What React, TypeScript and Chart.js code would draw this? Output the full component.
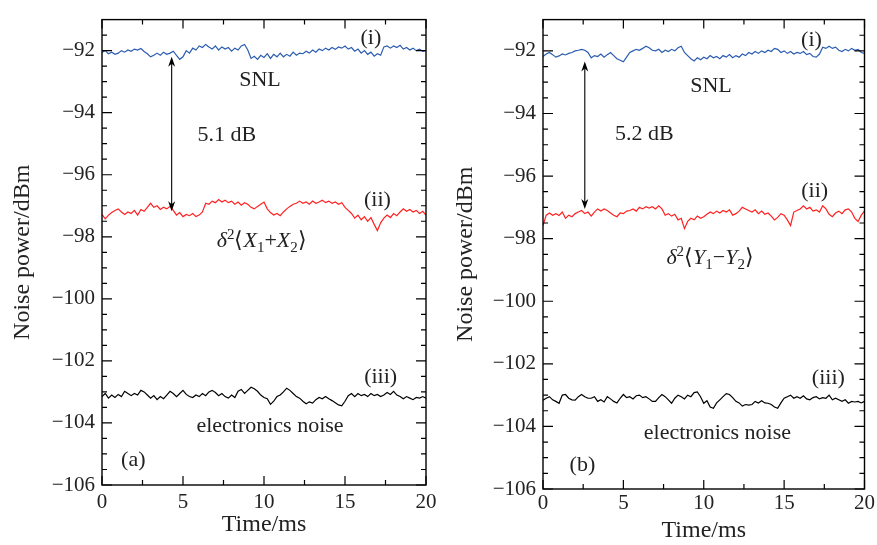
import React, { useEffect, useRef } from "react";
import { Chart, registerables } from "chart.js";
Chart.register(...registerables);

// ---------- data ----------
const TIME = [
  0, 0.2, 0.4, 0.6, 0.8, 1, 1.2, 1.4, 1.6, 1.8,
  2, 2.2, 2.4, 2.6, 2.8, 3, 3.2, 3.4, 3.6, 3.8,
  4, 4.2, 4.4, 4.6, 4.8, 5, 5.2, 5.4, 5.6, 5.8,
  6, 6.2, 6.4, 6.6, 6.8, 7, 7.2, 7.4, 7.6, 7.8,
  8, 8.2, 8.4, 8.6, 8.8, 9, 9.2, 9.4, 9.6, 9.8,
  10, 10.2, 10.4, 10.6, 10.8, 11, 11.2, 11.4, 11.6, 11.8,
  12, 12.2, 12.4, 12.6, 12.8, 13, 13.2, 13.4, 13.6, 13.8,
  14, 14.2, 14.4, 14.6, 14.8, 15, 15.2, 15.4, 15.6, 15.8,
  16, 16.2, 16.4, 16.6, 16.8, 17, 17.2, 17.4, 17.6, 17.8,
  18, 18.2, 18.4, 18.6, 18.8, 19, 19.2, 19.4, 19.6, 19.8,
  20,
];

// panel (a)
const A_SNL = [
  -92.05, -92.0, -92.1, -92.05, -92.12, -92.08, -92.0, -92.05, -91.98, -92.02,
  -91.95, -91.98, -91.93, -92.03, -92.1, -92.2, -92.15, -92.08, -92.15, -92.05,
  -92.12, -92.08, -92.02, -92.15, -92.28, -92.2, -92.0, -92.08, -91.92, -91.98,
  -91.85, -91.9, -91.8, -91.88, -91.95, -91.85, -91.98, -91.88, -91.95, -91.9,
  -92.02, -91.92, -91.98, -91.85, -91.8, -91.98, -92.25, -92.18, -92.28, -92.15,
  -92.22, -92.1, -92.25, -92.12, -92.2, -92.08, -92.2, -92.12, -92.18, -92.05,
  -92.15, -92.08, -92.1, -92.02, -92.08, -91.98, -92.05, -91.95, -92.0, -91.92,
  -91.98, -91.9, -91.96, -91.88, -91.92, -91.85, -91.95, -91.9, -92.02, -91.95,
  -92.08, -92.0, -92.12, -92.05, -92.18, -92.1, -92.15, -91.88, -91.85, -91.92,
  -91.85, -91.9, -91.83, -91.95, -91.9, -91.98, -91.92, -92.0, -91.95, -92.02,
  -92.0,
];
const A_SQ = [
  -97.28, -97.42, -97.3, -97.22, -97.15, -97.1, -97.2, -97.28, -97.2, -97.25,
  -97.15, -97.3, -97.12, -97.18, -97.05, -96.92, -97.05, -97.0, -97.12, -97.05,
  -97.1, -97.02, -97.15, -97.3, -97.22, -97.35, -97.28, -97.32, -97.25, -97.35,
  -97.3, -97.2, -96.92, -96.95, -96.85, -96.9, -96.8, -96.88, -96.82, -96.9,
  -96.85, -96.95, -96.88, -96.98, -96.9, -96.95, -97.05, -97.1, -97.02, -96.95,
  -96.88, -97.1, -97.22, -97.3, -97.25, -97.32, -97.2, -97.1, -97.02, -96.95,
  -96.92, -96.85, -96.92, -96.88, -96.95, -96.85, -96.92, -96.88, -96.82, -96.9,
  -96.85, -96.92, -96.88, -96.95, -96.9, -97.05, -97.15, -97.25, -97.4, -97.3,
  -97.45, -97.35, -97.5, -97.38, -97.6, -97.8, -97.55, -97.4, -97.3, -97.38,
  -97.25, -97.32, -97.2, -97.1, -97.18, -97.12, -97.2, -97.15, -97.25, -97.18,
  -97.3,
];
const A_EL = [
  -103.15, -103.05, -103.2, -103.1, -103.18, -103.08, -103.15, -102.98, -103.05, -103.12,
  -103.05, -103.1, -102.95, -103.0, -103.1, -103.2, -103.12, -103.25, -103.15, -103.22,
  -103.1, -102.98, -103.05, -103.15, -103.05, -102.95, -103.08, -103.15, -103.18, -103.1,
  -103.15, -103.05, -103.12, -103.0, -102.95, -103.02, -103.12, -103.05, -103.15, -103.2,
  -103.1, -103.18, -102.98, -102.92, -103.05, -102.95, -102.85, -102.9, -102.98, -103.1,
  -103.18, -103.22, -103.4, -103.3, -103.15, -103.1, -103.0, -102.88, -102.95, -103.05,
  -103.15, -103.2, -103.3, -103.38, -103.32, -103.36, -103.25, -103.18, -103.22, -103.15,
  -103.22, -103.28, -103.35, -103.42, -103.45, -103.3, -103.12, -103.05, -103.15, -103.05,
  -103.12, -103.08, -103.15, -103.05, -103.12, -103.08, -103.15, -103.1, -103.02, -103.08,
  -102.98, -103.1, -103.15, -103.22, -103.15, -103.2, -103.25, -103.18, -103.2, -103.15,
  -103.2,
];

// panel (b)
const B_SNL = [
  -92.18, -92.1, -92.05, -92.12, -92.2, -92.16, -92.1, -92.13, -92.08, -92.05,
  -92.0, -91.98, -91.95, -91.98, -92.05, -92.22, -92.15, -92.18, -92.1, -92.2,
  -92.12, -92.05, -92.15, -92.25, -92.3, -92.35, -92.2, -92.05, -92.0, -91.95,
  -91.98, -91.92, -91.85, -91.9, -91.98, -92.0, -91.95, -92.05, -91.98, -92.02,
  -91.95, -92.0, -91.9, -91.85, -92.05, -92.15, -92.25, -92.32, -92.22, -92.28,
  -92.2, -92.25, -92.15, -92.22, -92.18, -92.25, -92.15, -92.2, -92.12, -92.22,
  -92.15, -92.2, -92.1, -92.15, -92.05, -92.1, -92.02, -92.08, -92.0, -92.05,
  -91.98, -92.02, -91.92, -91.95, -92.05, -92.0, -92.08, -92.02, -92.1, -92.05,
  -92.08, -92.02, -92.12, -92.08, -92.18, -92.2, -92.1, -91.88, -91.92, -91.85,
  -91.92, -91.88, -91.98, -92.02, -91.95, -92.0, -91.92, -91.98, -91.95, -92.05,
  -92.08,
];
const B_SQ = [
  -97.58, -97.25, -97.18, -97.25, -97.2, -97.26, -97.15, -97.35, -97.25, -97.3,
  -97.2, -97.15, -97.1, -97.2, -97.15, -97.28, -97.15, -97.05, -97.12, -97.05,
  -97.1, -97.18, -97.25, -97.3, -97.18, -97.2, -97.12, -97.1, -97.05, -97.12,
  -97.0, -97.05, -96.98, -97.02, -96.98, -97.05, -96.95, -97.05, -97.25, -97.2,
  -97.28, -97.22, -97.4, -97.35, -97.68, -97.45, -97.35, -97.4, -97.28, -97.35,
  -97.3, -97.22, -97.15, -97.2, -97.12, -97.18, -97.1, -97.15, -97.08, -97.25,
  -97.2, -97.12, -97.0, -97.05, -97.1, -97.15, -97.08, -97.2, -97.12, -97.22,
  -97.18, -97.28, -97.4, -97.32, -97.2, -97.25, -97.4, -97.58, -97.15, -97.1,
  -97.05, -96.95, -97.05, -97.0, -97.12, -97.08, -97.15, -96.95, -97.05, -97.22,
  -97.3, -97.18, -97.12, -97.2, -97.08, -97.05, -97.15, -97.35, -97.45, -97.25,
  -97.12,
];
const B_EL = [
  -103.16, -103.1, -103.05, -103.15, -103.2, -103.26, -103.0, -102.98, -103.1, -103.15,
  -103.16, -103.05, -102.98, -103.05, -103.1, -103.1, -103.05, -103.2, -103.15, -103.22,
  -103.05, -103.12, -103.2, -103.25, -103.1, -102.98, -103.08, -103.05, -103.12, -103.02,
  -103.0, -103.08, -103.05, -103.12, -103.2, -103.2, -103.08, -102.98, -103.05, -103.15,
  -103.26, -103.1, -103.0, -103.05, -103.12, -103.0, -103.05, -102.92, -102.9, -103.05,
  -103.26, -103.18, -103.38, -103.42, -103.25, -103.15, -103.05, -102.95, -102.98, -103.08,
  -103.2, -103.25, -103.35, -103.3, -103.32, -103.3, -103.2, -103.25, -103.18, -103.25,
  -103.26, -103.3, -103.38, -103.42, -103.25, -103.1, -103.05, -103.0, -103.1, -103.05,
  -103.1, -103.02, -103.12, -103.15, -103.08, -103.05, -103.12, -103.08, -103.1, -103.0,
  -103.15, -103.1, -103.15, -103.2, -103.15, -103.26, -103.2, -103.22, -103.2, -103.25,
  -103.2,
];

const X_TICKS = [0, 5, 10, 15, 20];
const Y_TICKS = [-106, -104, -102, -100, -98, -96, -94, -92];
const X_TITLE = "Time/ms";
const Y_TITLE = "Noise power/dBm";

// ---------- styling ----------
const FONT = "'Liberation Serif', 'Times New Roman', serif";
const BLUE = "#2a5cb0";
const RED = "#ff2020";
const BLACK = "#000000";
const TEXT = "#222";

type Seg = { t: string; it?: boolean; sub?: boolean; sup?: boolean };
type Label = { segs: Seg[]; x: number; y: number; size?: number };
type PanelCfg = {
  snl: number[];
  sq: number[];
  el: number[];
  labels: Label[];
  arrow: { x: number; y1: number; y2: number };
  yAxisWidth: number;
  xAxisHeight: number;
  pad: { top: number; right: number };
  xTickPad: number;
  yTitlePad: number;
  xTitlePad: number;
};

function drawRich(ctx: CanvasRenderingContext2D, segs: Seg[], cx: number, cy: number, size: number) {
  const fontFor = (s: Seg) =>
    `${s.it ? "italic " : ""}${s.sub || s.sup ? Math.round(size * 0.7) : size}px ${FONT}`;
  let total = 0;
  for (const s of segs) {
    ctx.font = fontFor(s);
    total += ctx.measureText(s.t).width;
  }
  let x = cx - total / 2;
  const base = cy + size * 0.33;
  ctx.textAlign = "left";
  ctx.textBaseline = "alphabetic";
  ctx.fillStyle = TEXT;
  for (const s of segs) {
    ctx.font = fontFor(s);
    const dy = s.sub ? size * 0.22 : s.sup ? -size * 0.38 : 0;
    ctx.fillText(s.t, x, base + dy);
    x += ctx.measureText(s.t).width;
  }
}

const framePlugin = {
  id: "frameAndNotes",
  afterDatasetsDraw(chart: any) {
    const cfg: PanelCfg = chart.options.plugins.frameAndNotes.cfg;
    const { ctx, chartArea: a } = chart;
    const xs = chart.scales.x;
    const ys = chart.scales.y;
    ctx.save();
    ctx.strokeStyle = "#000";
    ctx.lineWidth = 1.4;
    ctx.strokeRect(a.left, a.top, a.right - a.left, a.bottom - a.top);
    ctx.lineWidth = 1.2;
    ctx.beginPath();
    for (let v = 0; v <= 20.001; v += 2.5) {
      const px = xs.getPixelForValue(v);
      const L = Math.abs(v % 5) < 1e-6 ? 9 : 5;
      ctx.moveTo(px, a.bottom);
      ctx.lineTo(px, a.bottom - L);
      ctx.moveTo(px, a.top);
      ctx.lineTo(px, a.top + L);
    }
    for (let v = -106; v <= -91.001; v += 0.5) {
      const py = ys.getPixelForValue(v);
      const L = Math.abs(v % 2) < 1e-6 ? 10 : 5;
      ctx.moveTo(a.left, py);
      ctx.lineTo(a.left + L, py);
      ctx.moveTo(a.right, py);
      ctx.lineTo(a.right - L, py);
    }
    ctx.stroke();

    // double-headed arrow
    const ax = xs.getPixelForValue(cfg.arrow.x);
    const ay1 = ys.getPixelForValue(cfg.arrow.y1);
    const ay2 = ys.getPixelForValue(cfg.arrow.y2);
    ctx.lineWidth = 1.1;
    ctx.beginPath();
    ctx.moveTo(ax, ay1 + 6);
    ctx.lineTo(ax, ay2 - 6);
    ctx.stroke();
    ctx.fillStyle = "#000";
    ctx.beginPath();
    ctx.moveTo(ax, ay1);
    ctx.lineTo(ax - 3.5, ay1 + 10);
    ctx.lineTo(ax, ay1 + 7);
    ctx.lineTo(ax + 3.5, ay1 + 10);
    ctx.closePath();
    ctx.fill();
    ctx.beginPath();
    ctx.moveTo(ax, ay2);
    ctx.lineTo(ax - 3.5, ay2 - 10);
    ctx.lineTo(ax, ay2 - 7);
    ctx.lineTo(ax + 3.5, ay2 - 10);
    ctx.closePath();
    ctx.fill();

    for (const l of cfg.labels) {
      drawRich(ctx, l.segs, xs.getPixelForValue(l.x), ys.getPixelForValue(l.y), l.size ?? 22);
    }
    ctx.restore();
  },
};

function Panel({ cfg, left, width }: { cfg: PanelCfg; left: number; width: number }) {
  const ref = useRef<HTMLCanvasElement>(null);
  useEffect(() => {
    const canvas = ref.current!;
    const mk = (vals: number[]) => TIME.map((t, i) => ({ x: t, y: vals[i] }));
    const ds = (vals: number[], color: string) => ({
      data: mk(vals),
      borderColor: color,
      borderWidth: 1.2,
      pointRadius: 0,
      tension: 0,
      fill: false,
    });
    const chart = new Chart(canvas, {
      type: "line",
      data: { datasets: [ds(cfg.snl, BLUE), ds(cfg.sq, RED), ds(cfg.el, BLACK)] },
      plugins: [framePlugin],
      options: {
        animation: false,
        responsive: false,
        devicePixelRatio: 1,
        layout: { padding: { top: cfg.pad.top, right: cfg.pad.right, left: 0, bottom: 0 } },
        plugins: {
          legend: { display: false },
          tooltip: { enabled: false },
          frameAndNotes: { cfg },
        } as any,
        scales: {
          x: {
            type: "linear",
            min: 0,
            max: 20,
            grid: { display: false, drawTicks: false },
            border: { display: false },
            afterBuildTicks: (s: any) => {
              s.ticks = X_TICKS.map((v) => ({ value: v }));
            },
            afterFit: (s: any) => {
              s.height = cfg.xAxisHeight;
            },
            ticks: {
              padding: cfg.xTickPad,
              color: TEXT,
              font: { family: FONT, size: 21 },
              maxRotation: 0,
              callback: (v: any) => String(v),
            },
            title: {
              display: true,
              text: X_TITLE,
              color: TEXT,
              font: { family: FONT, size: 24 },
              padding: { top: 0, bottom: cfg.xTitlePad },
            },
          },
          y: {
            type: "linear",
            min: -106,
            max: -91,
            grid: { display: false, drawTicks: false },
            border: { display: false },
            afterBuildTicks: (s: any) => {
              s.ticks = Y_TICKS.map((v) => ({ value: v }));
            },
            afterFit: (s: any) => {
              s.width = cfg.yAxisWidth;
            },
            ticks: {
              padding: 7,
              color: TEXT,
              font: { family: FONT, size: 21 },
              callback: (v: any) => String(v).replace("-", "\u2212"),
            },
            title: {
              display: true,
              text: Y_TITLE,
              color: TEXT,
              font: { family: FONT, size: 24 },
              padding: { top: cfg.yTitlePad, bottom: 0 },
            },
          },
        },
      } as any,
    });
    return () => chart.destroy();
  }, [cfg]);
  return (
    <canvas
      ref={ref}
      width={width}
      height={545}
      style={{ position: "absolute", left, top: 0, width, height: 545 }}
    />
  );
}

const PANEL_A: PanelCfg = {
  snl: A_SNL,
  sq: A_SQ,
  el: A_EL,
  arrow: { x: 4.3, y1: -92.2, y2: -97.18 },
  labels: [
    { segs: [{ t: "(i)" }], x: 16.6, y: -91.55 },
    { segs: [{ t: "SNL" }], x: 9.75, y: -92.9 },
    { segs: [{ t: "5.1 dB" }], x: 7.7, y: -94.68 },
    { segs: [{ t: "(ii)" }], x: 17.0, y: -96.76 },
    {
      segs: [
        { t: "δ", it: true },
        { t: "2", sup: true },
        { t: "⟨" },
        { t: "X", it: true },
        { t: "1", sub: true },
        { t: "+" },
        { t: "X", it: true },
        { t: "2", sub: true },
        { t: "⟩" },
      ],
      x: 9.86,
      y: -98.1,
    },
    { segs: [{ t: "(iii)" }], x: 17.2, y: -102.48 },
    { segs: [{ t: "electronics noise" }], x: 10.37, y: -104.05 },
    { segs: [{ t: "(a)" }], x: 1.93, y: -105.16 },
  ],
  yAxisWidth: 102,
  xAxisHeight: 60,
  pad: { top: 10, right: 19 },
  xTickPad: 5,
  yTitlePad: 8,
  xTitlePad: 6,
};

const PANEL_B: PanelCfg = {
  snl: B_SNL,
  sq: B_SQ,
  el: B_EL,
  arrow: { x: 2.6, y1: -92.34, y2: -97.05 },
  labels: [
    { segs: [{ t: "(i)" }], x: 16.7, y: -91.6 },
    { segs: [{ t: "SNL" }], x: 10.45, y: -93.07 },
    { segs: [{ t: "5.2 dB" }], x: 6.3, y: -94.6 },
    { segs: [{ t: "(ii)" }], x: 16.9, y: -96.45 },
    {
      segs: [
        { t: "δ", it: true },
        { t: "2", sup: true },
        { t: "⟨" },
        { t: "Y", it: true },
        { t: "1", sub: true },
        { t: "−" },
        { t: "Y", it: true },
        { t: "2", sub: true },
        { t: "⟩" },
      ],
      x: 10.4,
      y: -98.58,
    },
    { segs: [{ t: "(iii)" }], x: 17.75, y: -102.42 },
    { segs: [{ t: "electronics noise" }], x: 10.85, y: -104.16 },
    { segs: [{ t: "(b)" }], x: 2.45, y: -105.2 },
  ],
  yAxisWidth: 98,
  xAxisHeight: 56,
  pad: { top: 13, right: 10 },
  xTickPad: 2,
  yTitlePad: 6,
  xTitlePad: 0,
};

export default function App() {
  return (
    <div style={{ position: "absolute", left: 0, top: 0, width: 877, height: 545, background: "#fff" }}>
      <Panel cfg={PANEL_A} left={0} width={445} />
      <Panel cfg={PANEL_B} left={445} width={432} />
    </div>
  );
}
